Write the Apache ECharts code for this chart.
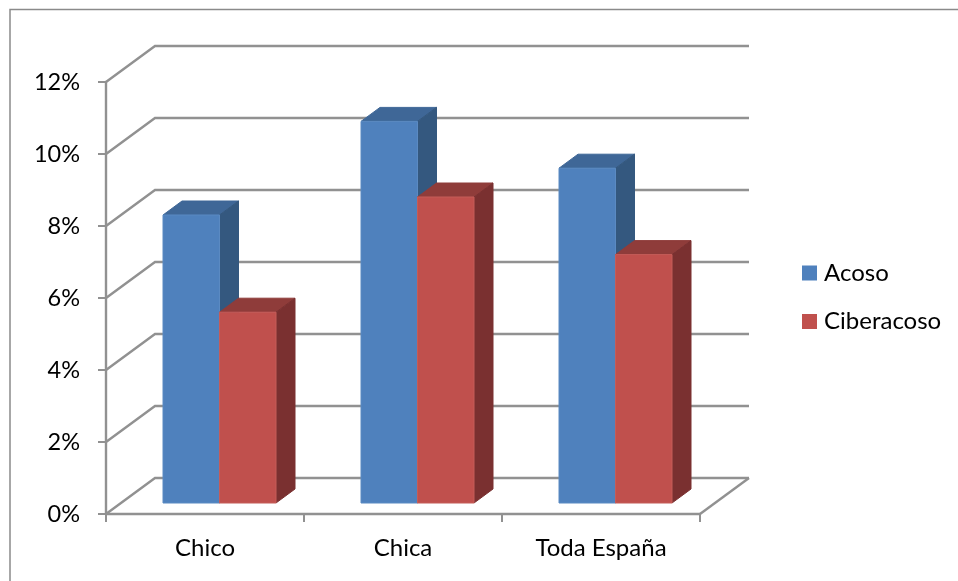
<!DOCTYPE html>
<html>
<head>
<meta charset="utf-8">
<script src="https://cdn.jsdelivr.net/npm/echarts@6/dist/echarts.min.js"></script>
<style>html,body{margin:0;padding:0;background:#fff}#c{width:958px;height:581px}</style>
</head>
<body>
<div id="c"></div>
<script>
const categories = ['Chico', 'Chica', 'Toda España'];
const acoso = [8.0, 10.6, 9.3];
const ciberacoso = [5.3, 8.5, 6.9];
const yTicks = [0, 2, 4, 6, 8, 10, 12];

const FONT = 'Lato';
const GRID_COLOR = '#919191';
const WALL_DX = 49, WALL_DY = -36;
const BAR_W = 56.5, FRONT_DX = 14.5, FRONT_DY = -11, DEPTH_DX = 19, DEPTH_DY = -14;

const chart = echarts.init(document.getElementById('c'), null, {renderer: 'canvas'});

function poly(points, fill, stroke) {
  return {type: 'polygon', shape: {points}, style: {fill, stroke: stroke || fill, lineWidth: 1}, silent: true};
}
function line(points, w) {
  return {type: 'polyline', shape: {points}, style: {fill: 'none', stroke: GRID_COLOR, lineWidth: w || 2.4}, silent: true};
}
function wallItem(params, api) {
  const cs = params.coordSys;
  const v = api.value(0);
  const y = api.coord([0, v])[1];
  const l = cs.x, r = cs.x + cs.width;
  const kids = [line([[l, y], [l + WALL_DX, y + WALL_DY], [r + WALL_DX, y + WALL_DY]])];
  if (v === 0) kids.push(line([[r, y], [r + WALL_DX, y + WALL_DY]]));
  return {type: 'group', children: kids};
}
function barRender(side, front, top, dark, edge) {
  return function (params, api) {
    const p = api.coord([api.value(0), api.value(1)]);
    const base = api.coord([api.value(0), 0]);
    const x0 = p[0] + FRONT_DX + (side < 0 ? -BAR_W : 0);
    const x1 = x0 + BAR_W;
    const yt = p[1] + FRONT_DY;
    const yb = base[1] + FRONT_DY;
    return {type: 'group', children: [
      poly([[x0, yt], [x0 + DEPTH_DX, yt + DEPTH_DY], [x1 + DEPTH_DX, yt + DEPTH_DY], [x1, yt]], top),
      poly([[x1, yt], [x1 + DEPTH_DX, yt + DEPTH_DY], [x1 + DEPTH_DX, yb + DEPTH_DY], [x1, yb]], dark),
      poly([[x0, yt], [x1, yt], [x1, yb], [x0, yb]], front, edge)
    ]};
  };
}

chart.setOption({
  animation: false,
  backgroundColor: '#fff',
  textStyle: {fontFamily: FONT},
  grid: {left: 106, top: 82, width: 594, height: 432, containLabel: false},
  legend: {
    orient: 'vertical', left: 797, top: 256, icon: 'rect', itemWidth: 15, itemHeight: 15, itemGap: 24.5,
    data: ['Acoso', 'Ciberacoso'],
    textStyle: {fontFamily: FONT, fontSize: 24, color: '#000', padding: [0, 0, 2, 2]},
    selectedMode: false
  },
  xAxis: {
    type: 'category', data: categories, boundaryGap: true,
    axisLine: {show: true, lineStyle: {color: GRID_COLOR, width: 2.4}},
    axisTick: {show: true, alignWithLabel: false, length: 8, lineStyle: {color: GRID_COLOR, width: 2}},
    axisLabel: {color: '#000', fontFamily: FONT, fontSize: 24, margin: 22},
    splitLine: {show: false}
  },
  yAxis: {
    type: 'value', min: 0, max: 12, interval: 2,
    axisLine: {show: true, lineStyle: {color: GRID_COLOR, width: 2.4}},
    axisTick: {show: true, length: 8, lineStyle: {color: GRID_COLOR, width: 2}},
    axisLabel: {color: '#000', fontFamily: FONT, fontSize: 23.5, margin: 26, formatter: '{value}%', padding: [2, 0, 0, 0]},
    splitLine: {show: false}
  },
  graphic: [{
    type: 'polyline', silent: true, z: -1,
    shape: {points: [[10, 581], [10, 9.5], [958, 9.5]]},
    style: {fill: 'none', stroke: '#8a8a8a', lineWidth: 1.5}
  }],
  series: [
    {type: 'custom', name: 'walls', coordinateSystem: 'cartesian2d', z: 1, silent: true,
      renderItem: wallItem, data: yTicks.map(v => [v]), encode: {y: 0}, clip: false},
    {type: 'custom', name: 'Acoso', coordinateSystem: 'cartesian2d', z: 3, silent: true,
      itemStyle: {color: '#4F81BD'},
      renderItem: barRender(-1, '#4F81BD', '#3F6797', '#34587F', '#5b8ac2'),
      data: acoso.map((v, i) => [i, v]), encode: {x: 0, y: 1}, clip: false},
    {type: 'custom', name: 'Ciberacoso', coordinateSystem: 'cartesian2d', z: 4, silent: true,
      itemStyle: {color: '#C0504D'},
      renderItem: barRender(1, '#C0504D', '#8F3C3A', '#7A3030', '#c45c59'),
      data: ciberacoso.map((v, i) => [i, v]), encode: {x: 0, y: 1}, clip: false}
  ]
});
</script>
</body>
</html>
